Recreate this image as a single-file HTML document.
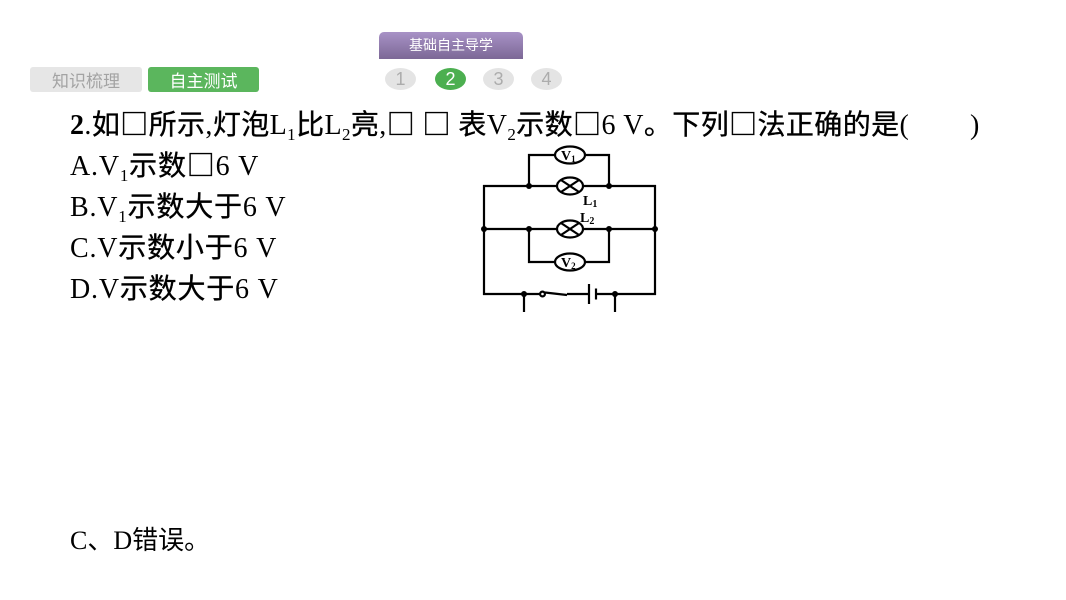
<!DOCTYPE html>
<html><head><meta charset="utf-8">
<style>
html,body{margin:0;padding:0;background:#fff;}
body{width:1066px;height:600px;position:relative;overflow:hidden;font-family:"Liberation Sans","Noto Sans CJK SC",sans-serif;}
.tab{position:absolute;top:67px;height:25px;line-height:25px;text-align:center;font-size:17px;border-radius:3px;font-family:"Noto Sans CJK SC",sans-serif;}
.t1{left:30px;width:112px;background:#e6e6e6;color:#a3a3a3;}
.t2{left:148px;width:111px;background:#5bb65d;color:#fff;}
.ptab{position:absolute;left:379px;top:32px;width:144px;height:27px;line-height:27px;text-align:center;color:#fff;font-size:14px;border-radius:5px 5px 0 0;background:linear-gradient(#a892c6,#7c6896);font-family:"Noto Sans CJK SC",sans-serif;}
.c{position:absolute;top:68px;width:31px;height:22px;line-height:22px;border-radius:50%;background:#e4e4e4;color:#acacac;text-align:center;font-size:18px;font-family:"Liberation Sans",sans-serif;}
.c.on{background:#4caf50;color:#fff;}
svg{position:absolute;left:0;top:0;}
.k{stroke:#000;stroke-width:0.35px;font-family:"Noto Sans CJK SC",sans-serif;}
</style></head><body>
<div class="ptab">基础自主导学</div>
<div class="c" style="left:385px">1</div>
<div class="c on" style="left:435px">2</div>
<div class="c" style="left:483px">3</div>
<div class="c" style="left:531px">4</div>
<div class="tab t1">知识梳理</div>
<div class="tab t2">自主测试</div>

<svg width="1066" height="600" viewBox="0 0 1066 600" xmlns="http://www.w3.org/2000/svg">
<g font-family="'Liberation Serif','Noto Sans CJK SC',sans-serif" font-size="28" fill="#000">
<text x="70" y="134" letter-spacing="0.4"><tspan font-weight="bold">2</tspan>.<tspan class="k">如□所示</tspan>,<tspan class="k">灯泡</tspan>L<tspan font-size="17" dy="6">1</tspan><tspan dy="-6" class="k">比</tspan>L<tspan font-size="17" dy="6">2</tspan><tspan dy="-6" class="k">亮</tspan>,<tspan class="k">□</tspan> <tspan class="k">□</tspan> <tspan class="k">表</tspan>V<tspan font-size="17" dy="6">2</tspan><tspan dy="-6" class="k">示数□</tspan>6 V<tspan class="k">。下列□法正确的是</tspan>(</text>
<text x="970" y="134">)</text>
<g letter-spacing="0.8">
<text x="70" y="175">A.V<tspan font-size="17" dy="6">1</tspan><tspan dy="-6" class="k">示数□</tspan>6 V</text>
<text x="70" y="216">B.V<tspan font-size="17" dy="6">1</tspan><tspan dy="-6" class="k">示数大于</tspan>6 V</text>
<text x="70" y="257">C.V<tspan class="k">示数小于</tspan>6 V</text>
<text x="70" y="298">D.V<tspan class="k">示数大于</tspan>6 V</text>
</g>
<text x="70" y="549" font-size="26">C<tspan font-family="'Noto Sans CJK SC',sans-serif">、</tspan>D<tspan font-family="'Noto Sans CJK SC',sans-serif">错误。</tspan></text>
</g>

<g stroke="#000" stroke-width="2.2" fill="none">
<line x1="484" y1="185" x2="484" y2="295"/>
<line x1="655" y1="185" x2="655" y2="295"/>
<line x1="483" y1="186" x2="557" y2="186"/>
<line x1="583" y1="186" x2="656" y2="186"/>
<ellipse cx="570" cy="186" rx="13" ry="8.5"/>
<line x1="561" y1="180" x2="579" y2="192"/>
<line x1="561" y1="192" x2="579" y2="180"/>
<polyline points="529,186 529,155 555,155"/>
<polyline points="585,155 609,155 609,186"/>
<ellipse cx="570" cy="155" rx="15" ry="8.5"/>
<line x1="484" y1="229" x2="557" y2="229"/>
<line x1="583" y1="229" x2="655" y2="229"/>
<ellipse cx="570" cy="229" rx="13" ry="8.5"/>
<line x1="561" y1="223" x2="579" y2="235"/>
<line x1="561" y1="235" x2="579" y2="223"/>
<polyline points="529,229 529,262 555,262"/>
<polyline points="585,262 609,262 609,229"/>
<ellipse cx="570" cy="262" rx="15" ry="8.5"/>
<line x1="483" y1="294" x2="540" y2="294"/>
<circle cx="542.5" cy="294" r="2.4" fill="#fff"/>
<line x1="545" y1="292.5" x2="567" y2="295"/>
<line x1="567" y1="294" x2="589" y2="294"/>
<line x1="589" y1="284" x2="589" y2="304"/>
<line x1="596" y1="288.5" x2="596" y2="299.5"/>
<line x1="596" y1="294" x2="656" y2="294"/>
<line x1="524" y1="294" x2="524" y2="312"/>
<line x1="615" y1="294" x2="615" y2="312"/>
</g>
<g fill="#000">
<circle cx="529" cy="186" r="3"/>
<circle cx="609" cy="186" r="3"/>
<circle cx="484" cy="229" r="3"/>
<circle cx="529" cy="229" r="3"/>
<circle cx="609" cy="229" r="3"/>
<circle cx="655" cy="229" r="3"/>
<circle cx="524" cy="294" r="3"/>
<circle cx="615" cy="294" r="3"/>
</g>
<g font-family="'Liberation Serif',serif" font-weight="bold" fill="#000">
<text x="561" y="160" font-size="14">V<tspan font-size="9" dy="2">1</tspan></text>
<text x="561" y="267" font-size="14">V<tspan font-size="9" dy="2">2</tspan></text>
<text x="583" y="205" font-size="14">L<tspan font-size="10" dy="2">1</tspan></text>
<text x="580" y="222" font-size="14">L<tspan font-size="10" dy="2">2</tspan></text>
</g>
</svg>
</body></html>
